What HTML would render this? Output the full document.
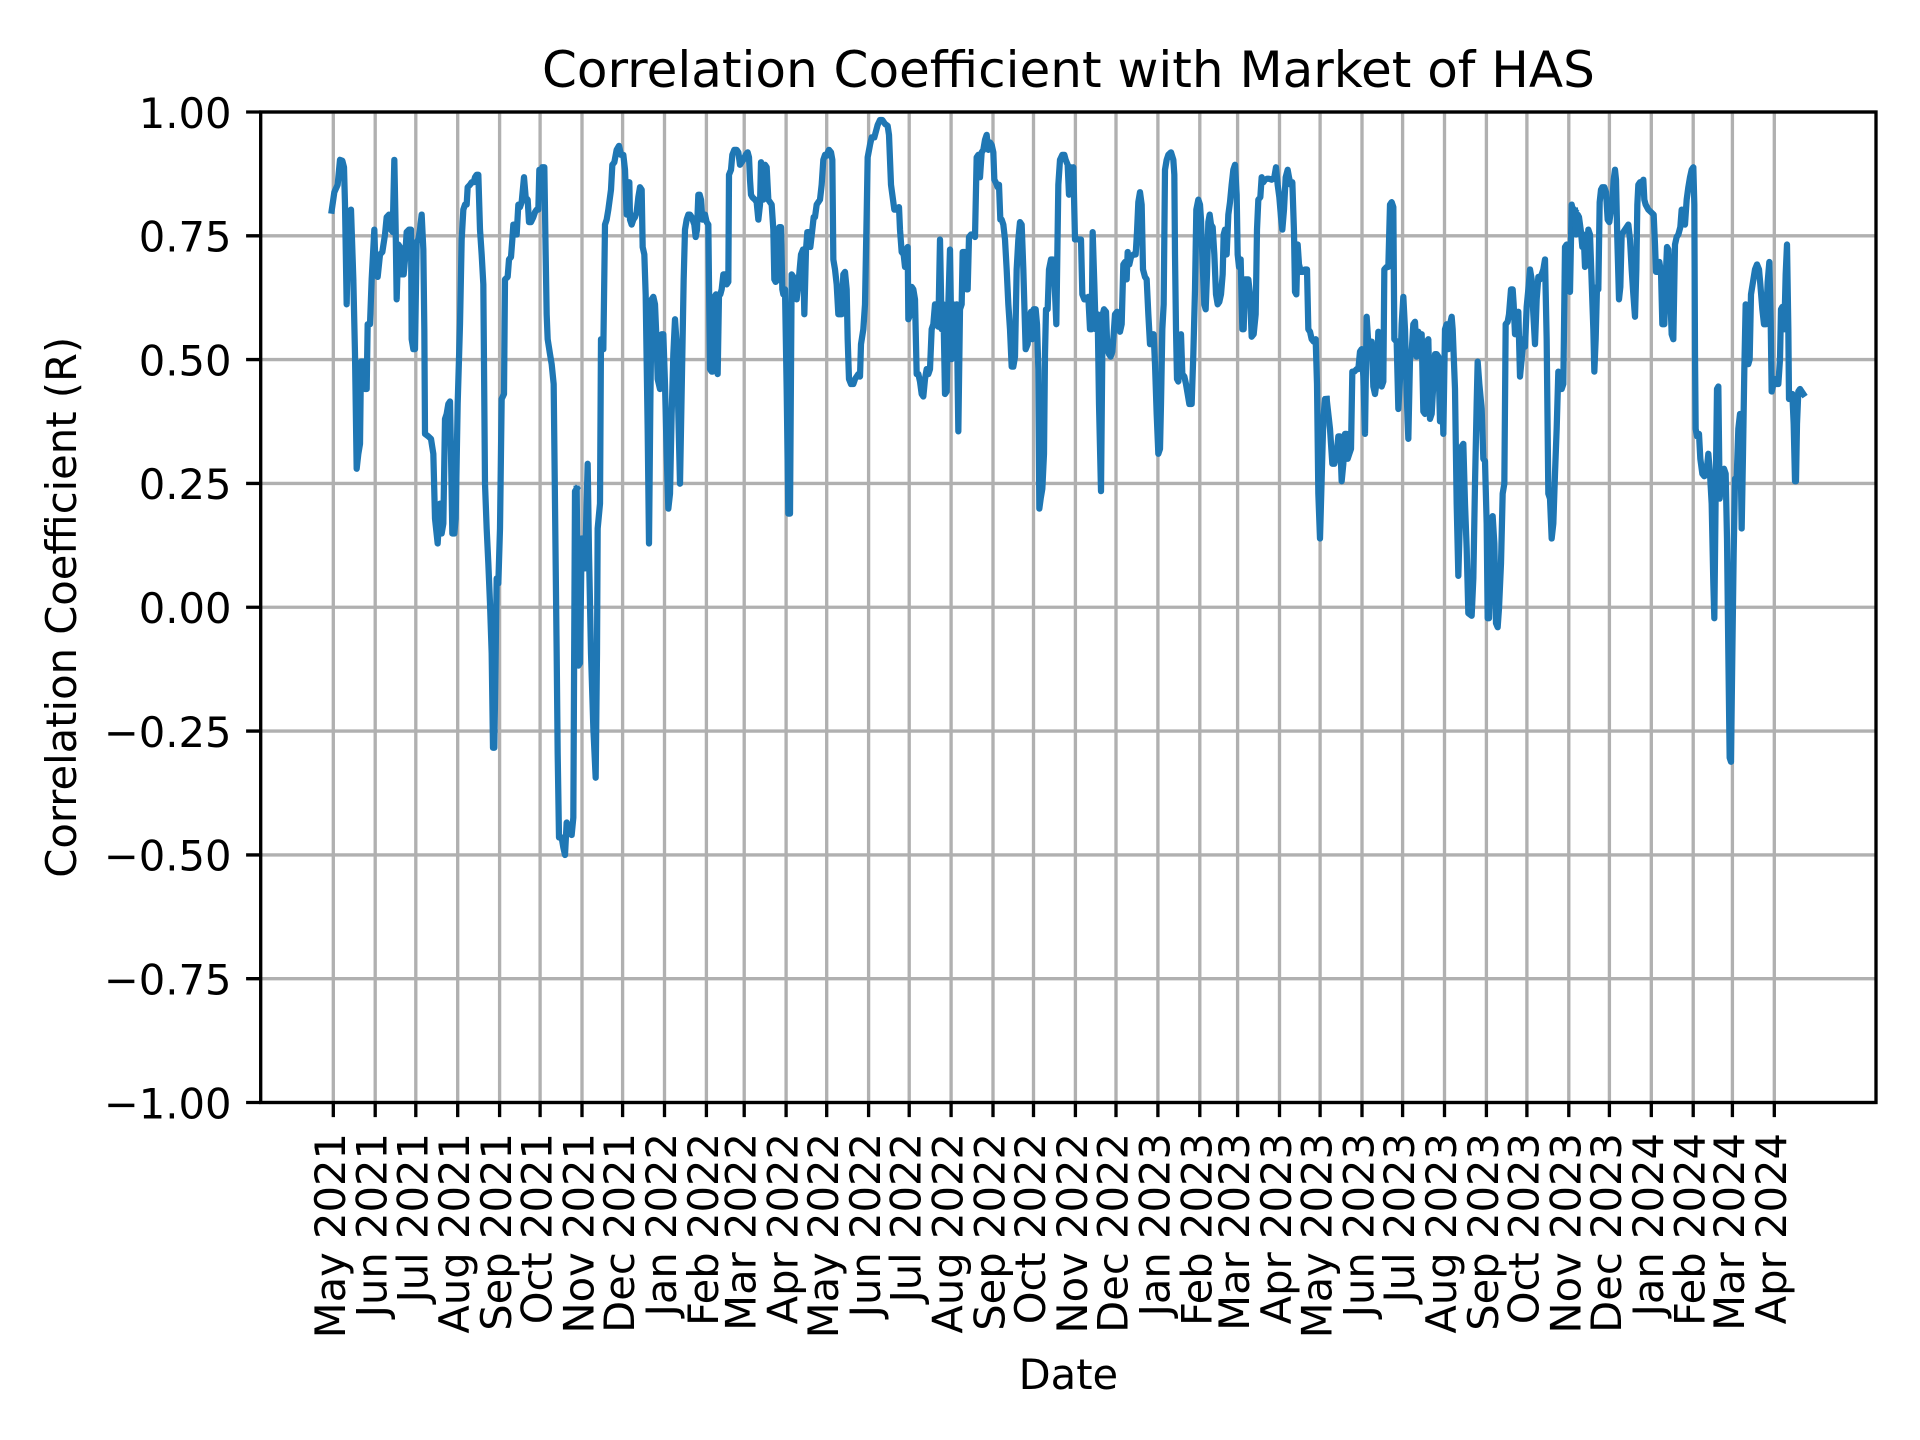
<!DOCTYPE html>
<html><head><meta charset="utf-8"><style>html,body{margin:0;padding:0;background:#fff}svg{display:block}</style></head>
<body>
<svg width="1920" height="1440" viewBox="0 0 1920 1440" xmlns="http://www.w3.org/2000/svg" font-family="'DejaVu Sans','Liberation Sans',sans-serif">
<rect width="1920" height="1440" fill="#fff"/>
<g stroke="#b0b0b0" stroke-width="3.33" fill="none">
<path d="M333.3 112V1102.5M375.2 112V1102.5M415.8 112V1102.5M457.7 112V1102.5M499.6 112V1102.5M540.1 112V1102.5M582.0 112V1102.5M622.6 112V1102.5M664.5 112V1102.5M706.4 112V1102.5M744.2 112V1102.5M786.1 112V1102.5M826.7 112V1102.5M868.6 112V1102.5M909.2 112V1102.5M951.1 112V1102.5M993.0 112V1102.5M1033.5 112V1102.5M1075.4 112V1102.5M1116.0 112V1102.5M1157.9 112V1102.5M1199.8 112V1102.5M1237.6 112V1102.5M1279.5 112V1102.5M1320.1 112V1102.5M1362.0 112V1102.5M1402.6 112V1102.5M1444.5 112V1102.5M1486.4 112V1102.5M1526.9 112V1102.5M1568.8 112V1102.5M1609.4 112V1102.5M1651.3 112V1102.5M1693.2 112V1102.5M1732.4 112V1102.5M1774.3 112V1102.5"/>
<path d="M260.7 112H1876M260.7 235.8H1876M260.7 359.6H1876M260.7 483.4H1876M260.7 607.25H1876M260.7 731.1H1876M260.7 854.9H1876M260.7 978.7H1876M260.7 1102.5H1876"/>
</g>
<g fill="none" stroke="#1f77b4" stroke-width="6.25" stroke-linejoin="round" stroke-linecap="square">
<g transform="translate(325 105) scale(0.333333 0.4983)"><polyline vector-effect="non-scaling-stroke" points="20,212 28,175 38,160 45,110 52,112 57,125 60,200 65,400 70,215 75,212 78,210 85,350 90,500 95,730 100,700 105,680 108,515 115,515 120,570 125,570 128,440 135,440 140,350 148,250 152,340 158,345 165,300 172,295 180,260 185,225 192,220 198,250 203,255 208,110 212,250 215,390 220,280 225,285 230,340 236,340 240,310 245,255 252,250 258,250 260,470 265,490 270,490 275,275 280,270 285,250 290,220 295,290 298,450 300,660 310,665 318,670 325,700 330,830 338,880 345,800 350,860 355,840 360,630 365,620 370,600 375,595 378,700 382,860 388,860 392,830 398,600 405,440 410,270 415,210 420,200 425,200 428,165 435,160 440,155 446,155 450,145 455,140 460,140 465,250 470,300 475,360 480,760 485,850 490,920 495,1000 500,1100 504,1290 508,1290 512,1100 515,950 520,960 525,850 530,590 537,580 540,350 548,345 552,310 558,305 562,270 565,240 570,240 575,260 580,200 585,205 590,195 597,145 602,185 608,190 612,235 618,235 625,225 630,215 635,210 640,210 643,130 648,140 652,125 658,125 662,300 665,420 668,470 675,500 680,520 686,560 690,800 695,1100 698,1300 702,1470 710,1470 715,1490 720,1505 725,1440 730,1450 735,1450 740,1465 745,1430 750,775 755,770"/></g>
<g transform="translate(575 105) scale(0.333333 0.4983)"><polyline vector-effect="non-scaling-stroke" points="5,770 10,1125 15,1120 20,870 25,870 30,930 38,720 42,900 48,1100 55,1250 62,1350 66,1100 68,850 75,800 78,470 85,490 90,240 95,230 100,210 108,170 112,120 118,115 125,90 132,82 138,100 145,100 150,130 155,220 160,155 163,155 165,230 170,240 175,230 180,225 185,215 190,185 195,165 200,170 203,285 208,300 212,380 218,650 222,880 226,600 230,390 235,385 240,400 245,480 248,550 255,570 260,460 265,460 270,560 275,700 280,810 285,780 290,620 295,500 300,430 305,480 310,620 315,760 318,650 322,500 326,350 330,250 335,230 340,220 345,220 350,225 358,240 362,265 366,250 370,180 374,180 378,190 382,230 385,230 390,220 395,235 400,240 402,360 405,530 410,535 413,535 418,385 423,380 428,540 432,380 436,380 440,370 445,340 450,340 455,360 460,355 462,140 468,130 472,100 478,90 485,90 490,95 495,120 500,115 505,110 512,100 518,95 522,105 525,150 528,180 532,185 540,190 545,195 550,230 555,200 558,115 562,135 565,190 570,120 575,125 580,190 585,195 590,200 595,250 598,350 602,355 608,350 613,245 618,245 622,370 625,380 630,370 635,570 640,820 645,820 650,340 655,345 660,380 665,390 672,345 678,300 684,290 688,420 693,290 697,255 702,255 706,285 712,250 716,225 720,225 725,200 730,195 735,190 740,160 745,110 750,100 755,100"/></g>
<g transform="translate(825 105) scale(0.333333 0.4983)"><polyline vector-effect="non-scaling-stroke" points="5,100 12,90 18,95 22,110 25,310 30,330 35,360 40,420 45,420 50,420 55,340 60,335 65,370 68,470 72,550 78,560 85,560 90,550 95,545 100,540 105,545 108,480 115,450 120,400 125,220 128,105 135,80 140,65 148,65 152,55 158,40 165,30 172,30 180,38 188,42 192,60 198,160 202,180 208,210 215,210 222,205 225,250 230,295 236,300 240,325 244,290 248,285 250,430 256,420 260,365 265,370 270,390 275,540 280,540 285,555 290,580 295,585 300,550 305,530 310,540 315,530 320,450 325,440 330,400 335,440 340,445 345,270 350,450 355,400 360,580 365,575 370,400 375,290 380,510 385,400 390,420 395,400 400,655 405,410 410,400 413,295 420,295 425,370 428,370 432,265 438,260 445,260 450,265 455,105 460,100 465,145 470,95 475,90 480,70 485,60 490,90 495,75 500,80 505,95 508,150 512,155 518,165 522,160 526,230 530,230 535,240 540,270 545,330 550,400 555,450 560,525 565,525 570,505 575,330 580,270 585,235 590,240 595,330 598,400 602,490 608,480 612,430 618,415 622,470 626,410 632,410 636,440 640,530 643,810 647,790 652,770 657,700 660,500 663,410 668,410 672,330 678,310 684,310 688,345 694,440 700,160 705,110 712,100 718,100 722,110 728,120 732,180 737,125 742,180 745,125 750,270 753,268"/></g>
<g transform="translate(1075 105) scale(0.333333 0.4983)"><polyline vector-effect="non-scaling-stroke" points="3,268 10,270 18,270 22,380 28,390 35,390 40,385 45,450 50,450 53,255 58,360 62,450 68,420 72,600 78,775 83,420 87,410 93,415 97,490 102,500 107,505 112,495 116,460 120,420 126,415 130,440 135,455 140,440 145,320 150,315 155,350 158,295 163,320 168,305 175,300 182,300 186,255 190,195 195,175 200,200 204,330 210,345 215,350 220,420 225,480 230,460 236,460 240,520 245,620 250,700 255,690 258,600 262,450 266,400 270,130 275,110 280,100 288,95 295,110 298,140 300,300 303,450 306,550 310,555 315,510 318,460 322,540 328,545 333,560 338,580 343,600 350,600 355,500 360,370 364,210 370,190 375,200 378,230 383,320 388,400 392,410 396,340 400,235 404,220 408,240 413,245 418,300 423,380 428,400 433,395 438,380 443,340 446,260 450,250 455,300 460,220 465,195 470,160 475,130 480,120 485,180 488,300 492,325 497,310 502,450 506,450 510,350 516,350 520,350 525,380 530,465 536,460 542,420 546,250 550,190 556,185 560,145 565,155 570,150 576,148 582,148 590,150 598,145 603,125 608,160 613,185 618,225 622,250 627,210 632,145 638,130 642,145 647,160 652,155 657,255 660,375 664,380 668,280 672,320 678,335 684,335 690,330 696,330 700,450 705,455 710,470 716,475 722,470 726,560 730,780 735,870 740,750 745,630 750,590 755,590"/></g>
<g transform="translate(1325 105) scale(0.333333 0.4983)"><polyline vector-effect="non-scaling-stroke" points="5,590 10,620 15,650 22,720 28,720 35,700 40,665 45,665 50,755 55,720 60,660 65,660 68,710 73,700 78,690 82,535 88,535 95,530 100,530 105,495 110,490 115,545 120,660 125,425 130,480 135,490 140,475 145,565 150,580 155,555 160,455 165,560 170,565 175,555 178,330 185,325 190,325 195,200 200,195 205,205 208,470 215,475 220,610 225,550 230,440 235,385 240,450 245,580 250,670 255,510 260,495 265,440 270,435 275,505 280,455 285,470 290,460 295,615 300,620 305,475 310,470 315,630 320,620 325,560 330,500 335,500 340,505 345,635 350,520 355,660 360,450 365,440 370,490 375,440 380,425 383,450 390,570 395,800 400,945 405,820 410,685 415,680 420,800 425,890 430,1020 440,1025 445,950 450,760 455,600 458,515 463,560 470,610 475,710 480,715 485,840 488,1030 492,1030 495,950 500,830 503,825 508,880 513,1040 518,1048 522,1010 528,920 533,780 538,760 542,440 548,435 552,420 558,370 563,370 566,400 570,460 575,430 580,415 585,545 590,510 595,470 600,485 605,405 610,370 615,330 620,350 625,420 630,480 635,390 640,345 645,350 650,340 655,330 660,310 665,470 670,780 675,790 680,870 685,840 690,740 695,650 700,535 705,540 710,570 715,560 720,285 725,280 730,370 735,375 740,200 745,215 750,212"/></g>
<g transform="translate(1575 105) scale(0.333333 0.4983)"><polyline vector-effect="non-scaling-stroke" points="0,212 3,260 8,220 12,225 18,255 22,285 26,260 30,325 35,320 40,250 45,260 50,355 55,450 58,535 62,470 66,365 70,370 74,195 78,170 82,165 88,165 93,175 98,230 103,235 108,210 112,195 116,150 120,130 123,150 127,270 132,390 136,365 140,260 145,255 150,250 155,245 160,240 165,270 170,330 175,380 180,425 184,330 187,200 190,160 195,155 200,160 205,150 208,190 212,200 220,210 228,215 236,220 240,280 243,335 248,335 253,315 258,335 262,440 268,440 272,350 276,285 280,290 285,365 290,460 295,470 300,280 305,265 310,260 316,245 320,210 325,235 330,240 335,190 340,165 345,145 350,130 355,125 358,200 360,500 362,650 366,665 372,660 376,710 382,740 388,745 394,740 400,700 405,740 410,800 415,960 418,1030 422,780 426,570 430,565 434,790 438,760 442,735 447,730 452,740 456,870 460,1100 464,1310 468,1318 472,1100 476,900 480,750 485,750 490,650 495,620 500,850 504,700 508,530 512,400 516,420 520,520 524,510 528,380 534,355 540,330 546,320 552,330 556,360 562,410 567,440 573,440 578,355 583,315 587,430 590,575 595,560 600,550 605,560 610,560 615,510 618,410 622,405 628,450 632,340 636,280 640,450 642,590 648,590 652,580 656,640 660,755 663,755 666,640 670,575 675,570 680,575 685,580"/></g>
</g>
<rect x="260.7" y="112" width="1615.3" height="990.5" fill="none" stroke="#000" stroke-width="3.33"/>
<g stroke="#000" stroke-width="3.33">
<path d="M246.1 112H260.7M246.1 235.8H260.7M246.1 359.6H260.7M246.1 483.4H260.7M246.1 607.25H260.7M246.1 731.1H260.7M246.1 854.9H260.7M246.1 978.7H260.7M246.1 1102.5H260.7"/>
<path d="M333.3 1102.5V1117.1M375.2 1102.5V1117.1M415.8 1102.5V1117.1M457.7 1102.5V1117.1M499.6 1102.5V1117.1M540.1 1102.5V1117.1M582.0 1102.5V1117.1M622.6 1102.5V1117.1M664.5 1102.5V1117.1M706.4 1102.5V1117.1M744.2 1102.5V1117.1M786.1 1102.5V1117.1M826.7 1102.5V1117.1M868.6 1102.5V1117.1M909.2 1102.5V1117.1M951.1 1102.5V1117.1M993.0 1102.5V1117.1M1033.5 1102.5V1117.1M1075.4 1102.5V1117.1M1116.0 1102.5V1117.1M1157.9 1102.5V1117.1M1199.8 1102.5V1117.1M1237.6 1102.5V1117.1M1279.5 1102.5V1117.1M1320.1 1102.5V1117.1M1362.0 1102.5V1117.1M1402.6 1102.5V1117.1M1444.5 1102.5V1117.1M1486.4 1102.5V1117.1M1526.9 1102.5V1117.1M1568.8 1102.5V1117.1M1609.4 1102.5V1117.1M1651.3 1102.5V1117.1M1693.2 1102.5V1117.1M1732.4 1102.5V1117.1M1774.3 1102.5V1117.1"/>
</g>
<g font-size="41.67" fill="#000" text-anchor="end">
<text x="231.5" y="127.8">1.00</text>
<text x="231.5" y="251.6">0.75</text>
<text x="231.5" y="375.4">0.50</text>
<text x="231.5" y="499.2">0.25</text>
<text x="231.5" y="623.1">0.00</text>
<text x="231.5" y="746.9">−0.25</text>
<text x="231.5" y="870.7">−0.50</text>
<text x="231.5" y="994.5">−0.75</text>
<text x="231.5" y="1118.3">−1.00</text>
</g>
<g font-size="41.67" fill="#000" text-anchor="end">
<text transform="translate(344.8 1133) rotate(-90)">May 2021</text>
<text transform="translate(386.7 1133) rotate(-90)">Jun 2021</text>
<text transform="translate(427.3 1133) rotate(-90)">Jul 2021</text>
<text transform="translate(469.2 1133) rotate(-90)">Aug 2021</text>
<text transform="translate(511.1 1133) rotate(-90)">Sep 2021</text>
<text transform="translate(551.6 1133) rotate(-90)">Oct 2021</text>
<text transform="translate(593.5 1133) rotate(-90)">Nov 2021</text>
<text transform="translate(634.1 1133) rotate(-90)">Dec 2021</text>
<text transform="translate(676.0 1133) rotate(-90)">Jan 2022</text>
<text transform="translate(717.9 1133) rotate(-90)">Feb 2022</text>
<text transform="translate(755.7 1133) rotate(-90)">Mar 2022</text>
<text transform="translate(797.6 1133) rotate(-90)">Apr 2022</text>
<text transform="translate(838.2 1133) rotate(-90)">May 2022</text>
<text transform="translate(880.1 1133) rotate(-90)">Jun 2022</text>
<text transform="translate(920.7 1133) rotate(-90)">Jul 2022</text>
<text transform="translate(962.6 1133) rotate(-90)">Aug 2022</text>
<text transform="translate(1004.5 1133) rotate(-90)">Sep 2022</text>
<text transform="translate(1045.0 1133) rotate(-90)">Oct 2022</text>
<text transform="translate(1086.9 1133) rotate(-90)">Nov 2022</text>
<text transform="translate(1127.5 1133) rotate(-90)">Dec 2022</text>
<text transform="translate(1169.4 1133) rotate(-90)">Jan 2023</text>
<text transform="translate(1211.3 1133) rotate(-90)">Feb 2023</text>
<text transform="translate(1249.1 1133) rotate(-90)">Mar 2023</text>
<text transform="translate(1291.0 1133) rotate(-90)">Apr 2023</text>
<text transform="translate(1331.6 1133) rotate(-90)">May 2023</text>
<text transform="translate(1373.5 1133) rotate(-90)">Jun 2023</text>
<text transform="translate(1414.1 1133) rotate(-90)">Jul 2023</text>
<text transform="translate(1456.0 1133) rotate(-90)">Aug 2023</text>
<text transform="translate(1497.9 1133) rotate(-90)">Sep 2023</text>
<text transform="translate(1538.4 1133) rotate(-90)">Oct 2023</text>
<text transform="translate(1580.3 1133) rotate(-90)">Nov 2023</text>
<text transform="translate(1620.9 1133) rotate(-90)">Dec 2023</text>
<text transform="translate(1662.8 1133) rotate(-90)">Jan 2024</text>
<text transform="translate(1704.7 1133) rotate(-90)">Feb 2024</text>
<text transform="translate(1743.9 1133) rotate(-90)">Mar 2024</text>
<text transform="translate(1785.8 1133) rotate(-90)">Apr 2024</text>
</g>
<text x="1068.4" y="87" font-size="50" text-anchor="middle" fill="#000">Correlation Coefficient with Market of HAS</text>
<text x="1068.4" y="1389" font-size="41.67" text-anchor="middle" fill="#000">Date</text>
<text transform="translate(76 607.25) rotate(-90)" font-size="41.67" text-anchor="middle" fill="#000">Correlation Coefficient (R)</text>
</svg>
</body></html>
